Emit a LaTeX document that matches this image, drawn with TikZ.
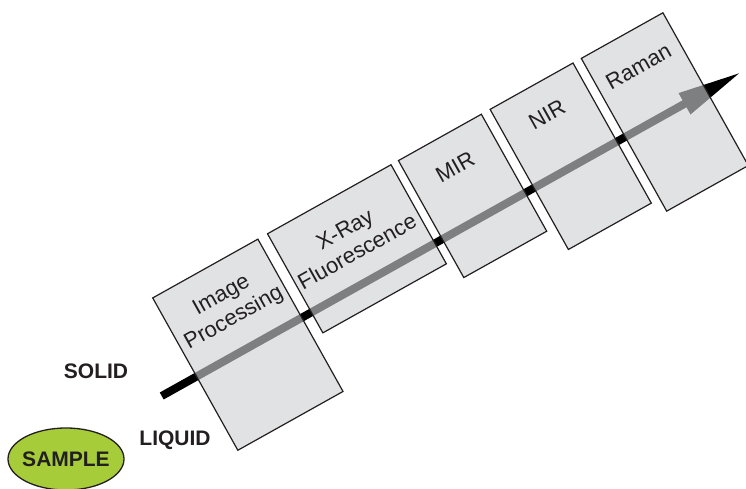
\documentclass[tikz,border=0pt]{standalone}
\usepackage{fontspec}
\setmainfont{Liberation Sans}
\usetikzlibrary{arrows.meta,shapes.geometric}
\definecolor{ink}{RGB}{35,31,32}
\definecolor{panelgray}{RGB}{206,208,211}
\definecolor{samplegreen}{RGB}{166,204,58}

\begin{document}
\begin{tikzpicture}[x=1pt,y=-1pt,
  panel/.style={rectangle, draw=ink, line width=1.2pt, fill=panelgray,
    fill opacity=0.61, inner sep=0pt},
  panellabel/.style={text=ink, font=\fontsize{22}{25.6}\selectfont,
    align=center, inner sep=0pt},
  sidelabel/.style={text=ink, font=\bfseries\fontsize{21}{25}\selectfont,
    inner sep=0pt},
  flow/.style={line width=8pt, draw=black,
    -{Triangle[length=66pt,width=22pt]}}
]
\useasboundingbox (0,0) rectangle (746,489);

% sample and the two phases
\node[ellipse, draw=ink, line width=1.3pt, fill=samplegreen,
  minimum width=116pt, minimum height=62pt, inner sep=0pt] (sample) at (66,459) {};
\node[sidelabel] (samplelabel) at (sample.center) {SAMPLE};
\node[sidelabel] (solid) at (96,371) {SOLID};
\node[sidelabel] (liquid) at (175,440) {LIQUID};

% tilted frame along the measurement axis
\begin{scope}[shift={(161.7,396)}, rotate=29.2, transform shape]
  \coordinate (tail) at (0,0);
  \coordinate (tip) at (665,0);
  \draw[flow] (tail) -- (tip);

  \node[panel, minimum width=120.5pt, minimum height=174.5pt] (imgproc) at (100.25,-2.75) {};
  \node[panel, minimum width=141.5pt, minimum height=113.5pt] (xrf) at (242.25,-33.25) {};
  \node[panel, minimum width=95pt, minimum height=134pt] (mir) at (369,-23) {};
  \node[panel, minimum width=95pt, minimum height=160.5pt] (nir) at (474,-9.75) {};
  \node[panel, minimum width=93.5pt, minimum height=175pt] (raman) at (577.75,-2.5) {};

  \node[panellabel] (imgproclabel) at (101,-45) {Image\\Processing};
  \node[panellabel] (xrflabel) at (241,-43.5) {X-Ray\\Fluorescence};
  \node[panellabel] (mirlabel) at (368,-57) {MIR};
  \node[panellabel] (nirlabel) at (473.5,-57.5) {NIR};
  \node[panellabel] (ramanlabel) at (577,-55) {Raman};
\end{scope}
\end{tikzpicture}
\end{document}
